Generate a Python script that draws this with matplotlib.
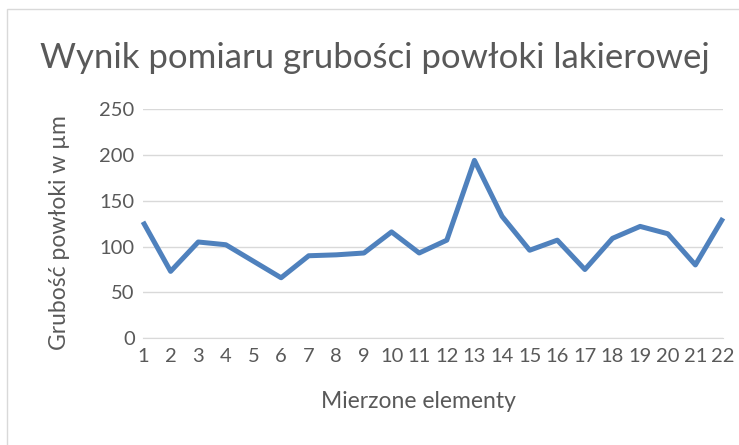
import matplotlib.pyplot as plt
from matplotlib.patches import Rectangle

# Measured elements and coating thickness (um)
elements = list(range(1, 23))
thickness = [127, 73, 105, 102, 84, 66, 90, 91, 93, 116, 93, 107,
             194, 133, 96, 107, 75, 109, 122, 114, 80, 131]
y_ticks = [0, 50, 100, 150, 200, 250]

plt.rcParams['font.family'] = ['Lato', 'DejaVu Sans']

W, H = 739, 445
fig = plt.figure(figsize=(W / 100, H / 100), dpi=100)
fig.patches.append(Rectangle((7 / W, -0.1), 1.2, (H - 9) / H + 0.1,
                             transform=fig.transFigure, fill=False,
                             edgecolor='#D9D9D9', linewidth=1))

ax = fig.add_axes([143 / W, (H - 338.3) / H, 580 / W, 229.3 / H])
ax.plot(elements, thickness, color='#4F81BD', linewidth=3.6,
        solid_joinstyle='round', solid_capstyle='butt', clip_on=False)

ax.set_xlim(1, 22)
ax.set_ylim(0, 250)
ax.set_xticks(elements)
ax.set_yticks(y_ticks)
ax.grid(axis='y', color='#D9D9D9', linewidth=1)
ax.set_axisbelow(True)
for s in ['top', 'right', 'left']:
    ax.spines[s].set_visible(False)
ax.spines['bottom'].set_color('#D9D9D9')
ax.tick_params(length=0, labelsize=14.5, colors='#595959', pad=6)
ax.tick_params(axis='x', pad=7)

fig.text(375 / W, 1 - 58 / H, 'Wynik pomiaru grubości powłoki lakierowej',
         fontsize=25, color='#595959', ha='center', va='center')
fig.text(418 / W, 1 - 401 / H, 'Mierzone elementy', fontsize=16.5,
         color='#595959', ha='center', va='center')
fig.text(60 / W, 1 - 233 / H, 'Grubość powłoki w µm', fontsize=16.5,
         color='#595959', ha='center', va='center', rotation=90)

fig.savefig('out.png', dpi=100)
